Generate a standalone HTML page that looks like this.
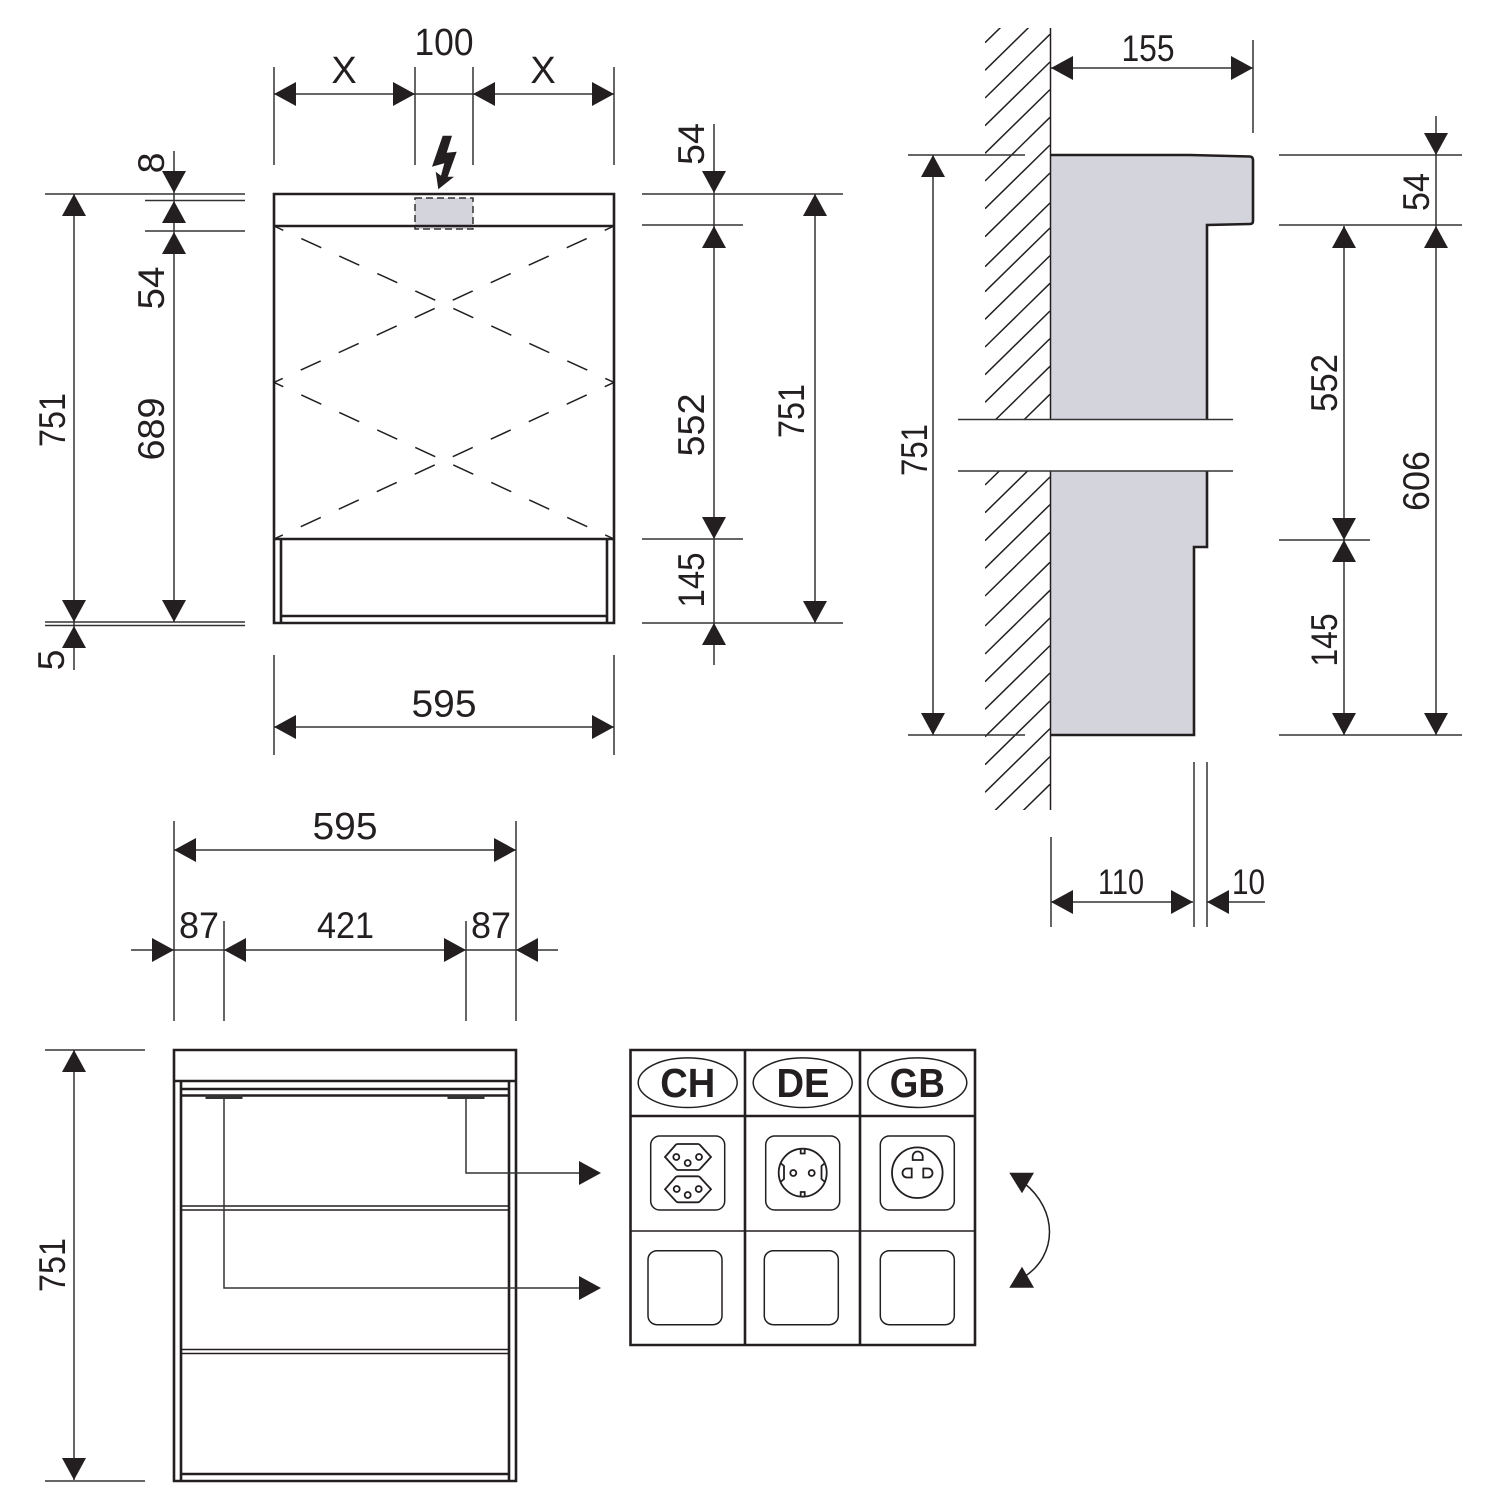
<!DOCTYPE html>
<html><head><meta charset="utf-8"><style>
html,body{margin:0;padding:0;background:#fff}
svg{display:block}
text{font-family:"Liberation Sans",sans-serif;font-size:38px;fill:#231f20;text-anchor:middle}
.d{stroke:#333;stroke-width:1.5;fill:none}
.o{stroke:#231f20;stroke-width:2.6;fill:none}
.t{stroke:#231f20;stroke-width:1.5;fill:none}
.i{stroke:#231f20;stroke-width:1.8;fill:none}
.b{font-weight:bold;font-size:41px}
.s{font-size:37.5px}
</style></head><body>
<svg xmlns="http://www.w3.org/2000/svg" width="1500" height="1500" viewBox="0 0 1500 1500">
<defs>
<polygon id="u" points="0,0 -12,22 12,22" fill="#231f20"/>
<polygon id="n" points="0,0 -12,-22 12,-22" fill="#231f20"/>
<polygon id="l" points="0,0 22,-12 22,12" fill="#231f20"/>
<polygon id="r" points="0,0 -22,-12 -22,12" fill="#231f20"/>
<clipPath id="w"><rect x="985" y="28" width="66" height="391"/><rect x="985" y="471" width="66" height="339"/></clipPath>
</defs>

<!-- View 1 cabinet -->
<rect x="415" y="198" width="58" height="31" fill="#d4d5dc" stroke="#333" stroke-width="1.5" stroke-dasharray="7 4"/>
<path class="o" d="M274 194H614V623H274ZM274 226H614M274 539H614M281 539V623M607 539V623M281 616H607"/>
<g class="t" stroke-dasharray="22 19.83" stroke-dashoffset="11.8">
<path d="M274 226L614 382.4"/><path d="M614 226L274 382.4"/>
<path d="M274 382.4L614 539"/><path d="M614 382.4L274 539"/>
</g>
<polygon fill="#231f20" points="442.7,135.7 452,135.7 446.7,152.7 456.7,151.7 447.7,176.7 454,176.7 438.3,189.3 435.7,171.7 441,175.7 444.3,163.3 432,166.7"/>

<!-- View 1 top dim -->
<path class="d" d="M274 67V165M415 67V165M473 67V165M614 67V165M274 94H614"/>
<use href="#l" x="274" y="94"/><use href="#r" x="415" y="94"/><use href="#l" x="473" y="94"/><use href="#r" x="614" y="94"/>
<text x="344" y="83">X</text><text x="444" y="55" textLength="59" lengthAdjust="spacingAndGlyphs">100</text><text x="543" y="83">X</text>

<!-- View 1 left dims -->
<path class="d" d="M45 194H245M145 200.5H245M145 231H245M45 622H245M45 625.5H245M74 194V670M174 151V622"/>
<use href="#u" x="74" y="194"/><use href="#n" x="74" y="622"/><use href="#u" x="74" y="626"/>
<use href="#n" x="174" y="193"/><use href="#u" x="174" y="201"/><use href="#u" x="174" y="232"/><use href="#n" x="174" y="622"/>
<text class="s" transform="translate(164,163) rotate(-90)">8</text>
<text class="s" transform="translate(164,288) rotate(-90)" textLength="43" lengthAdjust="spacingAndGlyphs">54</text>
<text class="s" transform="translate(164,429) rotate(-90)" textLength="63" lengthAdjust="spacingAndGlyphs">689</text>
<text class="s" transform="translate(65,420) rotate(-90)" textLength="54" lengthAdjust="spacingAndGlyphs">751</text>
<text class="s" transform="translate(64,660) rotate(-90)">5</text>

<!-- View 1 right dims -->
<path class="d" d="M642 194H843M642 225H743M642 539H743M642 623H843M714 124V665M815 194V623"/>
<use href="#n" x="714" y="193"/><use href="#u" x="714" y="226"/><use href="#n" x="714" y="539"/><use href="#u" x="714" y="623"/>
<use href="#u" x="815" y="194"/><use href="#n" x="815" y="623"/>
<text class="s" transform="translate(704,144) rotate(-90)" textLength="42" lengthAdjust="spacingAndGlyphs">54</text>
<text class="s" transform="translate(704,425) rotate(-90)" textLength="63" lengthAdjust="spacingAndGlyphs">552</text>
<text class="s" transform="translate(704,580) rotate(-90)" textLength="55" lengthAdjust="spacingAndGlyphs">145</text>
<text class="s" transform="translate(804,411) rotate(-90)" textLength="54" lengthAdjust="spacingAndGlyphs">751</text>

<!-- View 1 bottom dim -->
<path class="d" d="M274 655V755M614 655V755M274 727H614"/>
<use href="#l" x="274" y="727"/><use href="#r" x="614" y="727"/>
<text x="444" y="716.5" textLength="65" lengthAdjust="spacingAndGlyphs">595</text>

<!-- Side view -->
<path d="M1051 155H1190L1250 156.5Q1253 157 1253 160V221Q1253 224 1250 224L1207 225V419H1051ZM1051 471H1207V547H1194V735H1051Z" fill="#d4d5dc"/>
<g clip-path="url(#w)" class="t" stroke-width="1.4">
<path d="M985 15l65-63.7M985 42.7l65-63.7M985 70.3l65-63.7M985 98l65-63.7M985 125.7l65-63.7M985 153.3l65-63.7M985 181l65-63.7M985 208.7l65-63.7M985 236.7l65-63.7M985 266.7l65-63.7M985 291.7l65-63.7M985 319.3l65-63.7M985 347l65-63.7M985 374.7l65-63.7M985 402.3l65-63.7M985 430l65-63.7M985 458l65-63.7"/>
<path d="M985 485l65-63.7M985 512.7l65-63.7M985 540.7l65-63.7M985 568.3l65-63.7M985 596l65-63.7M985 626l65-63.7M985 654l65-63.7M985 681.7l65-63.7M985 709.3l65-63.7M985 736.7l65-63.7M985 764.7l65-63.7M985 792.3l65-63.7M985 820.3l65-63.7M985 848l65-63.7"/>
</g>
<path class="o" d="M1051 155H1190L1250 156.5Q1253 157 1253 160V221Q1253 224 1250 224L1207 225V419"/>
<path class="o" d="M1207 471V547H1194V735H1051"/>
<path class="t" stroke-width="2" d="M1050.5 28V419M1050.5 471V810"/>
<path class="d" d="M958 419.5H1233M958 471H1233"/>

<!-- Side dims -->
<path class="d" d="M1253 40V133M1051 68H1253M908 155H1025M908 735H1025M933 155V735"/>
<use href="#l" x="1051" y="68"/><use href="#r" x="1253" y="68"/>
<use href="#u" x="933" y="155"/><use href="#n" x="933" y="735"/>
<text class="s" x="1148" y="61" textLength="53" lengthAdjust="spacingAndGlyphs">155</text>
<text class="s" transform="translate(927,450) rotate(-90)" textLength="52" lengthAdjust="spacingAndGlyphs">751</text>
<path class="d" d="M1279 155H1462M1279 225H1462M1279 540H1370M1279 735H1462M1436 116V735M1344 226V735"/>
<use href="#n" x="1436" y="155"/><use href="#u" x="1436" y="226"/><use href="#n" x="1436" y="735"/>
<use href="#u" x="1344" y="226"/><use href="#n" x="1344" y="540"/><use href="#u" x="1344" y="540"/><use href="#n" x="1344" y="735"/>
<text class="s" transform="translate(1429,192) rotate(-90)" textLength="38" lengthAdjust="spacingAndGlyphs">54</text>
<text class="s" transform="translate(1429,481) rotate(-90)" textLength="60" lengthAdjust="spacingAndGlyphs">606</text>
<text class="s" transform="translate(1337,383) rotate(-90)" textLength="58" lengthAdjust="spacingAndGlyphs">552</text>
<text class="s" transform="translate(1337,640) rotate(-90)" textLength="53" lengthAdjust="spacingAndGlyphs">145</text>
<path class="d" d="M1194 762V927M1207 762V927M1051 837V927M1051 902H1193M1207 902H1265"/>
<use href="#l" x="1051" y="902"/><use href="#r" x="1193" y="902"/><use href="#l" x="1207" y="902"/>
<text x="1121" y="894" style="font-size:35px" textLength="46" lengthAdjust="spacingAndGlyphs">110</text>
<text x="1248.5" y="894" style="font-size:35px" textLength="33" lengthAdjust="spacingAndGlyphs">10</text>

<!-- Bottom-left dims -->
<path class="d" d="M174 821V1021M516 821V1021M174 850H516M224 921V1021M466 921V1021M131 950H558"/>
<use href="#l" x="174" y="850"/><use href="#r" x="516" y="850"/>
<use href="#r" x="174" y="950"/><use href="#l" x="224" y="950"/><use href="#r" x="466" y="950"/><use href="#l" x="516" y="950"/>
<text x="345" y="839" textLength="65" lengthAdjust="spacingAndGlyphs">595</text>
<text x="199" y="938" style="font-size:37px" textLength="40" lengthAdjust="spacingAndGlyphs">87</text>
<text x="345.5" y="938" style="font-size:37px" textLength="57" lengthAdjust="spacingAndGlyphs">421</text>
<text x="491" y="938" style="font-size:37px" textLength="40" lengthAdjust="spacingAndGlyphs">87</text>
<path class="d" d="M45 1050H145M45 1481H145M74 1050V1480"/>
<use href="#u" x="74" y="1050"/><use href="#n" x="74" y="1480"/>
<text class="s" transform="translate(65,1265) rotate(-90)" textLength="54" lengthAdjust="spacingAndGlyphs">751</text>

<!-- Cabinet 2 -->
<path class="o" d="M174 1050H516V1481H174ZM174 1081H516M181 1081V1481M509 1081V1481M181 1089H509M181 1095.5H509M181 1474H509"/>
<path class="t" d="M181 1206H509M181 1210H509M181 1349.5H509M181 1353.5H509"/>
<rect x="205.5" y="1095" width="37" height="4" fill="#333"/>
<rect x="447.5" y="1095" width="37" height="4" fill="#333"/>
<path class="d" stroke-width="1.6" d="M224 1099V1288H582M466 1099V1173H582"/>
<use href="#r" x="601" y="1173"/><use href="#r" x="601" y="1288"/>

<!-- Socket table -->
<path class="o" d="M630.5 1050H975V1345H630.5ZM745 1050V1345M860 1050V1345M630.5 1116H975"/>
<path class="t" d="M630.5 1231H975"/>
<ellipse class="t" cx="687.7" cy="1082.7" rx="49.5" ry="24.8"/>
<ellipse class="t" cx="802.7" cy="1082.7" rx="49.5" ry="24.8"/>
<ellipse class="t" cx="917.3" cy="1082.7" rx="49.5" ry="24.8"/>
<text class="b" x="687.7" y="1097" textLength="55" lengthAdjust="spacingAndGlyphs">CH</text>
<text class="b" x="803" y="1097" textLength="53" lengthAdjust="spacingAndGlyphs">DE</text>
<text class="b" x="917.3" y="1097" textLength="55" lengthAdjust="spacingAndGlyphs">GB</text>
<g class="t">
<rect x="650.7" y="1136" width="74" height="74" rx="9"/>
<rect x="765.7" y="1136" width="74" height="74" rx="9"/>
<rect x="880.3" y="1136" width="74" height="74" rx="9"/>
<rect x="648" y="1250.7" width="74" height="74" rx="9"/>
<rect x="764.3" y="1250.7" width="74" height="74" rx="9"/>
<rect x="880.3" y="1250.7" width="74" height="74" rx="9"/>
</g>
<g class="i">
<!-- CH -->
<path d="M665 1157L676 1144.5Q676.5 1144 678 1144H698Q699 1144 700 1145L711 1157L700 1169Q699 1170 698 1170H678Q677 1170 676 1169Z"/>
<path d="M665 1189.3L676 1176.8Q676.5 1176.3 678 1176.3H698Q699 1176.3 700 1177.3L711 1189.3L700 1201.3Q699 1202.3 698 1202.3H678Q677 1202.3 676 1201.3Z"/>
<circle cx="676.3" cy="1157" r="3"/><circle cx="699" cy="1157" r="3"/><circle cx="687.7" cy="1163" r="3"/>
<circle cx="676.7" cy="1189" r="3"/><circle cx="698.7" cy="1189" r="3"/><circle cx="687.7" cy="1195" r="3"/>
<!-- DE -->
<circle cx="802.7" cy="1172.7" r="24"/>
<circle cx="793.3" cy="1173" r="3"/><circle cx="811.7" cy="1173" r="3"/>
<path d="M800.7 1149V1153.5H804.7V1149M800.7 1196.5V1192H804.7V1196.5"/>
<path d="M780.5 1163L784 1166V1179L780.5 1182M825 1163L821.5 1166V1179L825 1182"/>
<!-- GB -->
<circle cx="917.3" cy="1172.7" r="25.3"/>
<path d="M912.7 1160V1156.5A5 5 0 0 1 922.7 1156.5V1160Z"/>
<path d="M911.7 1168.5V1177.5H907A4.5 4.5 0 0 1 907 1168.5Z"/>
<path d="M923.3 1168.5V1177.5H928A4.5 4.5 0 0 0 928 1168.5Z"/>
</g>

<!-- Curved arrow -->
<path class="t" d="M1024 1183C1058 1210 1058 1255 1024 1277"/>
<polygon fill="#231f20" points="1009.3,1172.7 1034,1172.7 1022,1193.3"/>
<polygon fill="#231f20" points="1009.3,1287.7 1034,1287.7 1022,1266.7"/>
</svg>
</body></html>
